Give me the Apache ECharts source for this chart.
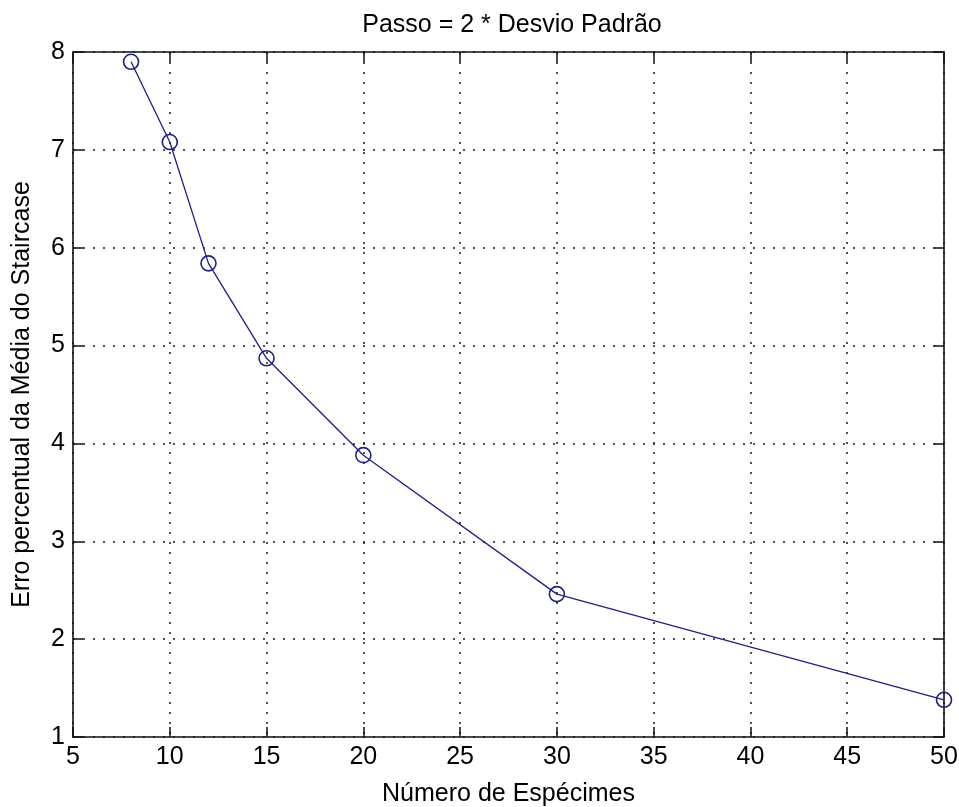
<!DOCTYPE html>
<html>
<head>
<meta charset="utf-8">
<script src="https://cdn.jsdelivr.net/npm/echarts@6/dist/echarts.min.js"></script>
<style>
  html, body { margin: 0; padding: 0; background: #fff; }
  #chart { width: 959px; height: 807px; }
</style>
</head>
<body>
<div id="chart"></div>
<script>
// Número de espécimes x erro percentual (passo = 2 desvios)
const especimes = [8, 10, 12, 15, 20, 30, 50]
const erroPercentual = [7.90, 7.08, 5.84, 4.87, 3.88, 2.46, 1.38]
const xTicks = [5, 10, 15, 20, 25, 30, 35, 40, 45, 50]
const yTicks = [1, 2, 3, 4, 5, 6, 7, 8]

const fonte = '"Liberation Sans", Arial, sans-serif'
const azul = '#1f1f86'

const grade = {
  show: true,
  lineStyle: { color: '#1a1a1a', width: 1.5, type: [2, 8] },
}

const eixoBase = (ticks, pos) => ({
  type: 'value',
  position: pos,
  min: ticks[0],
  max: ticks[ticks.length - 1],
  interval: ticks[1] - ticks[0],
  axisLine: { show: true, onZero: false, lineStyle: { color: '#111', width: 1.6 } },
  axisTick: { show: true, inside: true, length: 10, lineStyle: { color: '#111', width: 1.5 } },
})

const chart = echarts.init(document.getElementById('chart'))

chart.setOption({
  backgroundColor: '#fff',
  animation: false,
  textStyle: { fontFamily: fonte },
  title: {
    text: 'Passo = 2 * Desvio Padrão',
    left: 507,
    top: 8,
    textAlign: 'center',
    textStyle: { fontFamily: fonte, fontSize: 25, fontWeight: 'normal', color: '#000' },
  },
  grid: { left: 73, right: 15, top: 52, bottom: 70, containLabel: false, outerBoundsMode: 'none' },
  xAxis: [
    {
      ...eixoBase(xTicks, 'bottom'),
      name: 'Número de Espécimes',
      nameLocation: 'middle',
      nameGap: 45,
      nameTextStyle: { fontFamily: fonte, fontSize: 25, color: '#000' },
      axisLabel: { color: '#000', fontSize: 25, fontFamily: fonte, margin: 8 },
      splitLine: grade,
    },
    {
      ...eixoBase(xTicks, 'top'),
      axisLabel: { show: false },
      splitLine: { show: false },
    },
  ],
  yAxis: [
    {
      ...eixoBase(yTicks, 'left'),
      name: 'Erro percentual da Média do Staircase',
      nameLocation: 'middle',
      nameGap: 38,
      nameTextStyle: { fontFamily: fonte, fontSize: 25, color: '#000' },
      axisLabel: { color: '#000', fontSize: 25, fontFamily: fonte, margin: 8 },
      splitLine: grade,
    },
    {
      ...eixoBase(yTicks, 'right'),
      axisLabel: { show: false },
      splitLine: { show: false },
    },
  ],
  series: [
    {
      type: 'line',
      xAxisIndex: 0,
      yAxisIndex: 0,
      data: especimes.map((x, i) => [x, erroPercentual[i]]),
      clip: false,
      symbol: 'circle',
      symbolSize: 15,
      showAllSymbol: true,
      lineStyle: { color: azul, width: 1.3 },
      itemStyle: { color: 'rgba(0,0,0,0)', borderColor: azul, borderWidth: 1.6 },
      emphasis: { disabled: true },
    },
  ],
})
</script>
</body>
</html>
